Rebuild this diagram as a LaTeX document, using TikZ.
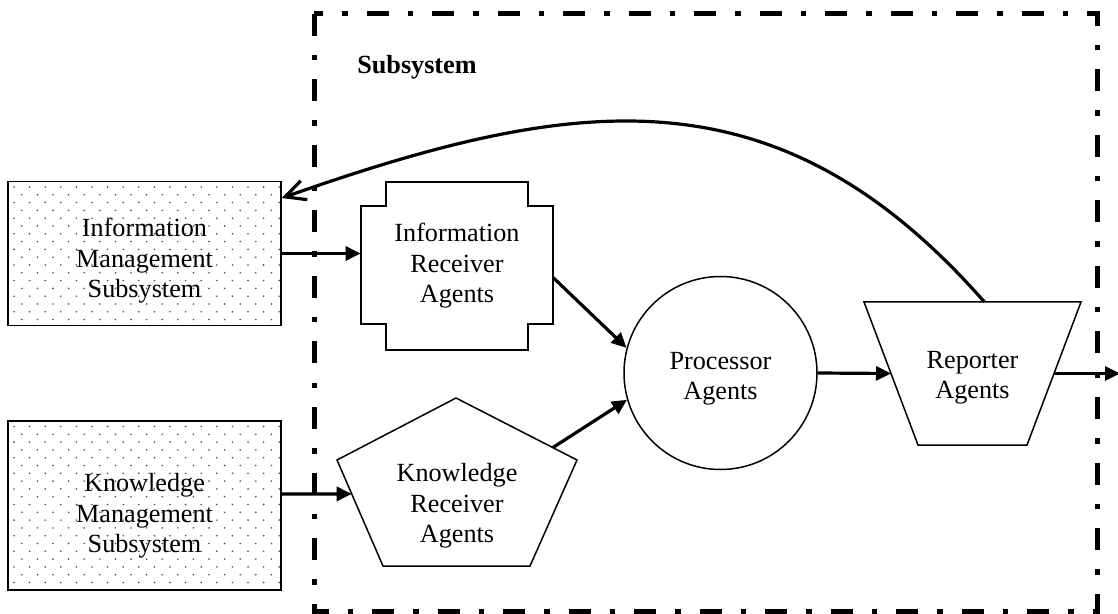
\documentclass[tikz,border=0pt]{standalone}
\usepackage{fontspec}
\setmainfont{Liberation Serif}
\usetikzlibrary{arrows.meta, calc}

\begin{document}
\begin{tikzpicture}[x=0.5pt, y=-0.5pt,
    every node/.style={font=\fontsize{13.1}{15.25}\selectfont, align=center},
    agentline/.style={line width=0.75pt},
    mgmt/.style={draw, line width=0.75pt, minimum width=136.5pt, minimum height=72pt, inner sep=0pt,
        path picture={\foreach \r in {0,...,22} \foreach \c in {0,...,17}
            \fill[black!70] ($(path picture bounding box.north west)+({6+\c*15.6+mod(\r,2)*7.8},{5.5+\r*7.8})$) circle (0.45pt);}},
    flow/.style={line width=1.6pt, -{Triangle[length=7.5pt, width=7pt]}},
    frame/.style={line width=2.5pt, dash pattern=on 11pt off 9.5pt on 2.75pt off 9.5pt}]
    \useasboundingbox (0,0) rectangle (1118,614);

    % subsystem frame
    \draw [frame] (314,14) -- (314,611) -- (1097,611) -- (1097,14) -- cycle;
    \node [font=\fontsize{13.1}{15}\selectfont\bfseries] (sub) at (417,67) {Subsystem};

    % management subsystems
    \node [mgmt] (ims) at (144.5,253.5) {};
    \node (ims-text) at (144.5,261) {Information\\Management\\Subsystem};
    \node [mgmt, minimum height=84.5pt] (kms) at (144.5,505.5) {};
    \node (kms-text) at (144.5,516) {Knowledge\\Management\\Subsystem};

    % receiver agents
    \draw [agentline] (386,182) -- (528,182) -- (528,206) -- (553,206) -- (553,324) -- (528,324)
        -- (528,350) -- (386,350) -- (386,324) -- (361,324) -- (361,206) -- (386,206) -- cycle;
    \node [minimum width=96pt, minimum height=84pt, inner sep=0pt] (irec) at (457,266) {Information\\Receiver\\Agents};
    \draw [agentline] (456,398) coordinate (kp-t) -- (577,460) coordinate (kp-r) -- (530,566) coordinate (kp-br)
        -- (383,566) coordinate (kp-bl) -- (337,460) coordinate (kp-l) -- cycle;
    \node (krec) at (457,506) {Knowledge\\Receiver\\Agents};

    % processor and reporter
    \node [agentline, draw, circle, minimum size=96.5pt, inner sep=0pt] (proc) at (720.5,373) {};
    \node (proc-text) at (720.5,378.5) {Processor\\Agents};
    \draw [agentline] (864,302) coordinate (rp-tl) -- (1081,302) coordinate (rp-tr) -- (1027,445) coordinate (rp-br)
        -- (918,445) coordinate (rp-bl) -- cycle;
    \node (rep) at (972.5,378) {Reporter\\Agents};
    \coordinate (out) at (1120,373.5);

    % connectors
    \draw [flow] (ims.east) -- (ims.east -| irec.west);
    \draw [flow] (kms.east |- 0,494) -- ($(kp-l)!0.32!(kp-bl)$);
    \draw [flow] (irec.-7) -- (proc.165);
    \draw [flow] ($(kp-t)!0.8!(kp-r)$) -- (proc.196);
    \draw [flow] (proc.east) -- ($(rp-tl)!0.5!(rp-bl)$);
    \draw [flow] ($(rp-tr)!0.5!(rp-br)$) -- (out);
    \draw [line width=1.6pt, -{Straight Barb[length=10pt, width=10pt]}] ($(rp-tl)!0.555!(rp-tr)$)
        .. controls (777,66) and (575,95) .. (ims.22);
\end{tikzpicture}
\end{document}
